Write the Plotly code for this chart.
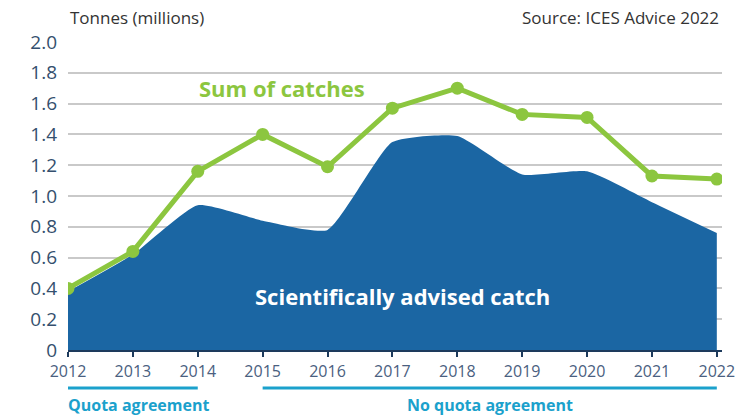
import plotly.graph_objects as go

years = [2012, 2013, 2014, 2015, 2016, 2017, 2018, 2019, 2020, 2021, 2022]
sum_of_catches = [0.40, 0.64, 1.16, 1.40, 1.19, 1.57, 1.70, 1.53, 1.51, 1.13, 1.11]
advised_catch = [0.38, 0.62, 0.94, 0.84, 0.78, 1.35, 1.39, 1.14, 1.16, 0.96, 0.76]
y_tickvals = [0, 0.2, 0.4, 0.6, 0.8, 1.0, 1.2, 1.4, 1.6, 1.8, 2.0]
y_ticktext = ["0", "0.2", "0.4", "0.6", "0.8", "1.0", "1.2", "1.4", "1.6", "1.8", "2.0"]
periods = [("Quota agreement", 2012, 2014), ("No quota agreement", 2015, 2022)]

FONT = "Open Sans"
NAVY = "#1b66a3"
GREEN = "#8cc63f"
TEAL = "#1ba1cc"
LABEL = "#344f6e"

fig = go.Figure()
fig.add_trace(go.Scatter(
    x=years, y=advised_catch, mode="lines", fill="tozeroy",
    fillcolor=NAVY, line=dict(color=NAVY, width=0, shape="spline", smoothing=0.5),
    hoverinfo="skip", showlegend=False))
fig.add_trace(go.Scatter(
    x=years, y=sum_of_catches, mode="lines+markers",
    line=dict(color=GREEN, width=5), marker=dict(color=GREEN, size=13),
    showlegend=False))

for label, x0, x1 in periods:
    fig.add_shape(type="line", xref="x", yref="paper", x0=x0, x1=x1,
                  y0=-0.123, y1=-0.123, line=dict(color=TEAL, width=3))
    if x0 == years[0]:
        fig.add_annotation(x=x0, y=-0.178, xref="x", yref="paper", text="<b>" + label + "</b>",
                           showarrow=False, xanchor="left", yanchor="middle", xshift=-2,
                           font=dict(family=FONT, size=16, color=TEAL))
    else:
        fig.add_annotation(x=(x0 + x1) / 2, y=-0.178, xref="x", yref="paper", text="<b>" + label + "</b>",
                           showarrow=False, xanchor="center", yanchor="middle",
                           font=dict(family=FONT, size=16, color=TEAL))

fig.add_annotation(x=0, y=1.08, xref="paper", yref="paper", text="Tonnes (millions)",
                   showarrow=False, xanchor="left", yanchor="middle",
                   font=dict(family=FONT, size=17, color="#333333"))
fig.add_annotation(x=0.998, y=1.08, xref="paper", yref="paper", text="Source: ICES Advice 2022",
                   showarrow=False, xanchor="right", yanchor="middle",
                   font=dict(family=FONT, size=17, color="#333333"))
fig.add_annotation(x=2015.3, y=1.70, xref="x", yref="y", text="<b>Sum of catches</b>",
                   showarrow=False, font=dict(family=FONT, size=22, color=GREEN))
fig.add_annotation(x=2017.16, y=0.35, xref="x", yref="y", text="<b>Scientifically advised catch</b>",
                   showarrow=False, font=dict(family=FONT, size=22, color="white"))

fig.update_layout(
    width=751, height=417,
    margin=dict(l=68, r=29, t=42, b=67),
    paper_bgcolor="white", plot_bgcolor="white",
    font=dict(family=FONT),
    xaxis=dict(range=[2012, 2022.08], tickvals=years, ticks="outside", ticklen=5,
               tickwidth=2, tickcolor="#1d3a5c", showline=True, linecolor="#1d3a5c",
               linewidth=2, showgrid=False, zeroline=False, ticklabelstandoff=1,
               tickfont=dict(family=FONT, size=16, color="#4a6080")),
    yaxis=dict(range=[0, 2.0], tickvals=y_tickvals, ticktext=y_ticktext,
               showgrid=True, gridcolor="#c9c9c9", gridwidth=2, zeroline=False,
               showline=False, ticks="", ticklabelstandoff=10,
               tickfont=dict(family=FONT, size=19, color=LABEL)),
)

fig.write_html("out.html", config={"displayModeBar": False},
               post_script="document.body.style.margin='0';")
